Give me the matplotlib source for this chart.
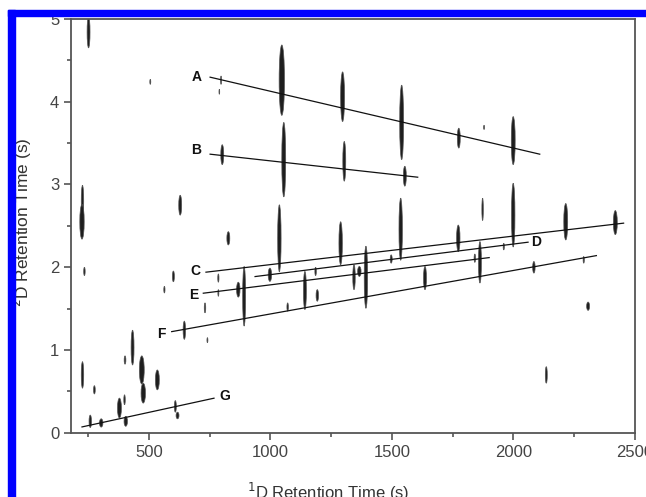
import matplotlib
matplotlib.use("Agg")
import matplotlib.pyplot as plt
from matplotlib.patches import Ellipse, Rectangle
from matplotlib.ticker import MultipleLocator

plt.rcParams["font.family"] = ["Liberation Sans", "DejaVu Sans"]

# spots: centre (1D s, 2D s), width (s), height (s)
spot_x = [252, 506, 797, 790, 802, 227, 225, 629, 235, 827, 601, 564, 786, 786,
          868, 892, 731, 646, 741, 227, 276, 433, 402, 471, 477, 535, 379, 400,
          405, 304, 259, 609, 618, 1047, 1055, 1297, 1540, 1304, 1553, 1775,
          1999, 1879, 1873, 1037, 1289, 1536, 1773, 1999, 2215, 2419, 998, 1071,
          1142, 1186, 1193, 1344, 1366, 1393, 1497, 1636, 1841, 1862, 1960, 2084,
          2289, 2307, 2135]
spot_y = [4.84, 4.24, 4.26, 4.12, 3.36, 2.80, 2.55, 2.75, 1.95, 2.35, 1.89, 1.73,
          1.87, 1.69, 1.73, 1.65, 1.51, 1.24, 1.12, 0.70, 0.52, 1.03, 0.88, 0.76,
          0.48, 0.64, 0.30, 0.40, 0.14, 0.12, 0.14, 0.32, 0.21, 4.26, 3.30, 4.06,
          3.75, 3.28, 3.10, 3.56, 3.53, 3.69, 2.70, 2.35, 2.29, 2.46, 2.35, 2.63,
          2.55, 2.54, 1.91, 1.52, 1.72, 1.95, 1.66, 1.88, 1.95, 1.88, 2.10, 1.87,
          2.11, 2.06, 2.25, 2.00, 2.09, 1.53, 0.70]
spot_w = [12, 4, 4, 3, 12, 10, 18, 12, 6, 12, 8, 5, 5, 4, 14, 12, 6, 10, 4, 10,
          7, 12, 7, 20, 18, 16, 16, 6, 14, 14, 10, 8, 12, 22, 16, 16, 16, 12, 12,
          12, 16, 4, 6, 14, 14, 14, 14, 14, 16, 16, 14, 6, 12, 6, 10, 10, 14, 14,
          8, 12, 6, 12, 5, 10, 5, 12, 8]
spot_h = [0.38, 0.06, 0.10, 0.06, 0.24, 0.38, 0.42, 0.24, 0.10, 0.16, 0.13, 0.08,
          0.10, 0.08, 0.18, 0.72, 0.12, 0.22, 0.06, 0.32, 0.10, 0.42, 0.10, 0.34,
          0.24, 0.24, 0.24, 0.12, 0.12, 0.10, 0.15, 0.14, 0.08, 0.85, 0.90, 0.60,
          0.90, 0.48, 0.24, 0.24, 0.58, 0.05, 0.27, 0.81, 0.52, 0.75, 0.32, 0.77,
          0.44, 0.29, 0.16, 0.10, 0.46, 0.10, 0.14, 0.30, 0.12, 0.75, 0.10, 0.28,
          0.10, 0.50, 0.08, 0.14, 0.08, 0.10, 0.20]

# homologous series lines
line_names = ["A", "B", "C", "D", "E", "F", "G"]
line_x0 = [752, 752, 735, 937, 724, 594, 225]
line_y0 = [4.296, 3.366, 1.941, 1.888, 1.687, 1.223, 0.072]
line_x1 = [2108, 1606, 2453, 2060, 1900, 2341, 768]
line_y1 = [3.366, 3.088, 2.533, 2.303, 2.117, 2.141, 0.419]
label_x = [698, 694, 691, 2095, 686, 553, 814]
label_y = [4.30, 3.42, 1.95, 2.30, 1.67, 1.20, 0.44]

fig = plt.figure(figsize=(6.46, 4.97), dpi=100)
ax = fig.add_axes([0.110, 0.129, 0.873, 0.833])

for x, y, w, h in zip(spot_x, spot_y, spot_w, spot_h):
    ax.add_patch(Ellipse((x, y), w, h, facecolor="#1e1e1e", edgecolor="#555555",
                         linewidth=0.5, zorder=2))

for x0, y0, x1, y1 in zip(line_x0, line_y0, line_x1, line_y1):
    ax.plot([x0, x1], [y0, y1], color="#111111", linewidth=0.9, zorder=3)

for name, x, y in zip(line_names, label_x, label_y):
    ax.text(x, y, name, ha="center", va="center", fontsize=10,
            fontweight="bold", color="#111111", zorder=4)

ax.set_xlim(180, 2500)
ax.set_ylim(0, 5)
ax.xaxis.set_major_locator(MultipleLocator(500))
ax.xaxis.set_minor_locator(MultipleLocator(250))
ax.yaxis.set_major_locator(MultipleLocator(1))
ax.yaxis.set_minor_locator(MultipleLocator(0.5))
ax.tick_params(which="major", direction="out", length=5, width=1.2,
               color="#555555", labelsize=12, labelcolor="#444444")
ax.tick_params(which="minor", direction="out", length=3, width=1.2,
               color="#555555")
for sp in ax.spines.values():
    sp.set_color("#555555")
    sp.set_linewidth(1.3)

ax.set_xlabel("$^1$D Retention Time (s)", fontsize=12, color="#333333")
ax.set_ylabel("$^2$D Retention Time (s)", fontsize=12.5, color="#333333")
ax.xaxis.set_label_coords(0.456, -0.115)
ax.yaxis.set_label_coords(-0.066, 0.51)

# blue frame on top and left edges
fig.add_artist(Rectangle((8 / 646, 1 - 16 / 497), 1, 6 / 497,
                         transform=fig.transFigure, color="#0000ff", zorder=10))
fig.add_artist(Rectangle((8 / 646, 0), 7 / 646, 1 - 10 / 497,
                         transform=fig.transFigure, color="#0000ff", zorder=10))

fig.savefig("out.png", dpi=100)
